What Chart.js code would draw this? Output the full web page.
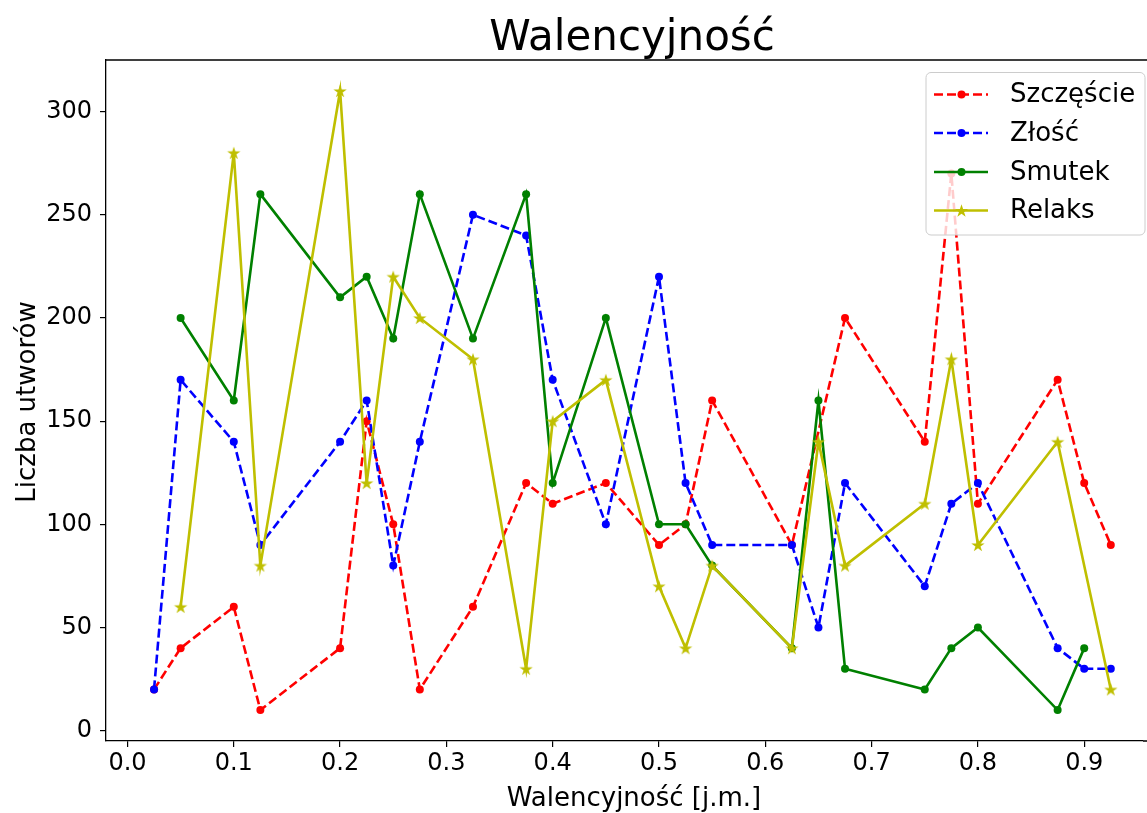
<!DOCTYPE html>
<html>
<head>
<meta charset="utf-8">
<script src="https://cdn.jsdelivr.net/npm/chart.js@4/dist/chart.umd.min.js"></script>
<style>
  html, body { margin: 0; padding: 0; background: #fff; overflow: hidden; }
  #wrap { width: 1147px; height: 813px; position: relative; }
</style>
</head>
<body>
<div id="wrap"><canvas id="chart"></canvas></div>
<script>
// ===== dane =====
const SERIES_NAMES = ["Szczęście", "Złość", "Smutek", "Relaks"];

const szczescieX = [0.025, 0.05, 0.1, 0.125, 0.2, 0.225, 0.25, 0.275, 0.325, 0.375, 0.4, 0.45, 0.5, 0.525, 0.55, 0.625, 0.675, 0.75, 0.775, 0.8, 0.875, 0.9, 0.925];
const szczescieY = [20, 40, 60, 10, 40, 150, 100, 20, 60, 120, 110, 120, 90, 100, 160, 90, 200, 140, 270, 110, 170, 120, 90];

const zloscX = [0.025, 0.05, 0.1, 0.125, 0.2, 0.225, 0.25, 0.275, 0.325, 0.375, 0.4, 0.45, 0.5, 0.525, 0.55, 0.625, 0.65, 0.675, 0.75, 0.775, 0.8, 0.875, 0.9, 0.925];
const zloscY = [20, 170, 140, 90, 140, 160, 80, 140, 250, 240, 170, 100, 220, 120, 90, 90, 50, 120, 70, 110, 120, 40, 30, 30];

const smutekX = [0.05, 0.1, 0.125, 0.2, 0.225, 0.25, 0.275, 0.325, 0.375, 0.4, 0.45, 0.5, 0.525, 0.55, 0.625, 0.65, 0.675, 0.75, 0.775, 0.8, 0.875, 0.9];
const smutekY = [200, 160, 260, 210, 220, 190, 260, 190, 260, 120, 200, 100, 100, 80, 40, 160, 30, 20, 40, 50, 10, 40];

const relaksX = [0.05, 0.1, 0.125, 0.2, 0.225, 0.25, 0.275, 0.325, 0.375, 0.4, 0.45, 0.5, 0.525, 0.55, 0.625, 0.65, 0.675, 0.75, 0.775, 0.8, 0.875, 0.925];
const relaksY = [60, 280, 80, 310, 120, 220, 200, 180, 30, 150, 170, 70, 40, 80, 40, 140, 80, 110, 180, 90, 140, 20];

const X_TICKS = [0, 0.1, 0.2, 0.3, 0.4, 0.5, 0.6, 0.7, 0.8, 0.9];
const Y_TICKS = [0, 50, 100, 150, 200, 250, 300];

const COLORS = { red: "#ff0000", blue: "#0000ff", green: "#008000", yellow: "#bfbf00" };
const FONT = "'DejaVu Sans', sans-serif";
const DASH = [9, 4];
const LINE_W = 2.6;
const DOT_R = 4;
const STAR_R = 7;

function zip(xs, ys) {
  return xs.map((x, i) => ({ x: x, y: ys[i] }));
}

// gwiazdka jak marker '*' w matplotlib
function starPath(ctx, cx, cy, r) {
  const inner = r * 0.382;
  ctx.beginPath();
  for (let i = 0; i < 10; i++) {
    const rad = i % 2 === 0 ? r : inner;
    const a = -Math.PI / 2 + i * Math.PI / 5;
    const px = cx + rad * Math.cos(a);
    const py = cy + rad * Math.sin(a);
    if (i === 0) ctx.moveTo(px, py); else ctx.lineTo(px, py);
  }
  ctx.closePath();
}

function makeStar(color, r) {
  const c = document.createElement("canvas");
  const s = Math.ceil(r * 2 + 2);
  c.width = s; c.height = s;
  const g = c.getContext("2d");
  starPath(g, s / 2, s / 2 + 0.7, r);
  g.fillStyle = color;
  g.fill();
  return c;
}

const starImg = makeStar(COLORS.yellow, STAR_R);

function lineDataset(label, data, color, dashed, order) {
  return {
    label: label,
    data: data,
    borderColor: color,
    backgroundColor: color,
    borderWidth: LINE_W,
    borderDash: dashed ? DASH : [],
    pointRadius: DOT_R,
    pointBorderWidth: 0,
    pointHoverRadius: DOT_R,
    tension: 0,
    fill: false,
    order: order,
  };
}

const datasets = [
  lineDataset(SERIES_NAMES[0], zip(szczescieX, szczescieY), COLORS.red, true, 3),
  lineDataset(SERIES_NAMES[1], zip(zloscX, zloscY), COLORS.blue, true, 2),
  lineDataset(SERIES_NAMES[2], zip(smutekX, smutekY), COLORS.green, false, 1),
  Object.assign(lineDataset(SERIES_NAMES[3], zip(relaksX, relaksY), COLORS.yellow, false, 0), {
    pointStyle: starImg,
  }),
];

/* ===== tytuł, opisy osi, ramka, legenda ===== */
const decorPlugin = {
  id: "decor",
  afterDraw(chart) {
    const ctx = chart.ctx;
    const a = chart.chartArea;
    ctx.save();

    // górna ramka + przedłużenie dolnej osi do krawędzi (oś ucięta jak w oryginale)
    ctx.strokeStyle = "#000";
    ctx.lineWidth = 1.3;
    ctx.beginPath();
    ctx.moveTo(a.left, a.top);
    ctx.lineTo(chart.width, a.top);
    ctx.moveTo(a.right, a.bottom);
    ctx.lineTo(chart.width, a.bottom);
    ctx.stroke();

    ctx.fillStyle = "#000";
    ctx.textAlign = "center";
    ctx.textBaseline = "alphabetic";
    ctx.font = "42px " + FONT;
    ctx.fillText("Walencyjność", 632, 50);

    ctx.font = "26px " + FONT;
    ctx.fillText("Walencyjność [j.m.]", 634, 806);

    ctx.save();
    ctx.translate(28, 402);
    ctx.rotate(-Math.PI / 2);
    ctx.textBaseline = "middle";
    ctx.fillText("Liczba utworów", 0, 0);
    ctx.restore();

    // legenda
    const bx = 926, by = 72.5, bw = 219, bh = 162.5, r = 5;
    ctx.globalAlpha = 0.8;
    ctx.fillStyle = "#fff";
    ctx.beginPath();
    ctx.roundRect(bx, by, bw, bh, r);
    ctx.fill();
    ctx.globalAlpha = 1;
    ctx.strokeStyle = "#cccccc";
    ctx.lineWidth = 1;
    ctx.stroke();

    const rows = [94.5, 133, 172, 210.5];
    const colors = [COLORS.red, COLORS.blue, COLORS.green, COLORS.yellow];
    const dashed = [true, true, false, false];
    rows.forEach((y, i) => {
      ctx.strokeStyle = colors[i];
      ctx.lineWidth = LINE_W;
      ctx.setLineDash(dashed[i] ? DASH : []);
      ctx.beginPath();
      ctx.moveTo(934, y);
      ctx.lineTo(988, y);
      ctx.stroke();
      ctx.setLineDash([]);
      ctx.fillStyle = colors[i];
      if (i === 3) {
        starPath(ctx, 961.5, y + 0.7, STAR_R);
        ctx.fill();
      } else {
        ctx.beginPath();
        ctx.arc(961.5, y, DOT_R, 0, Math.PI * 2);
        ctx.fill();
      }
      ctx.fillStyle = "#000";
      ctx.font = "26px " + FONT;
      ctx.textAlign = "left";
      ctx.textBaseline = "middle";
      ctx.fillText(SERIES_NAMES[i], 1010, y + 1);
    });

    ctx.restore();
  },
};

new Chart(document.getElementById("chart"), {
  type: "line",
  data: { datasets: datasets },
  options: {
    responsive: true,
    maintainAspectRatio: false,
    animation: false,
    events: [],
    layout: { padding: { top: 60, left: 0, right: 0, bottom: 0 } },
    plugins: { legend: { display: false }, tooltip: { enabled: false }, title: { display: false } },
    scales: {
      x: {
        type: "linear",
        min: -0.0202,
        max: 0.9553,
        afterFit: (s) => { s.height = 72; s.paddingLeft = 0; s.paddingRight = 0; },
        afterBuildTicks: (s) => { s.ticks = X_TICKS.map((v) => ({ value: v })); },
        ticks: {
          color: "#000",
          font: { family: FONT, size: 24 },
          padding: 2,
          maxRotation: 0,
          autoSkip: false,
          callback: (v) => Number(v).toFixed(1),
        },
        grid: { display: true, drawOnChartArea: false, drawTicks: true, tickLength: 6, color: "#000", lineWidth: 1.2 },
        border: { display: true, color: "#000", width: 1.3 },
      },
      y: {
        type: "linear",
        min: -5,
        max: 325,
        afterFit: (s) => { s.width = 106; s.paddingTop = 0; s.paddingBottom = 0; },
        afterBuildTicks: (s) => { s.ticks = Y_TICKS.map((v) => ({ value: v })); },
        ticks: {
          color: "#000",
          font: { family: FONT, size: 24 },
          padding: 8,
          autoSkip: false,
          callback: (v) => String(v),
        },
        grid: { display: true, drawOnChartArea: false, drawTicks: true, tickLength: 6, color: "#000", lineWidth: 1.2 },
        border: { display: true, color: "#000", width: 1.3 },
      },
    },
  },
  plugins: [decorPlugin],
});
</script>
</body>
</html>
